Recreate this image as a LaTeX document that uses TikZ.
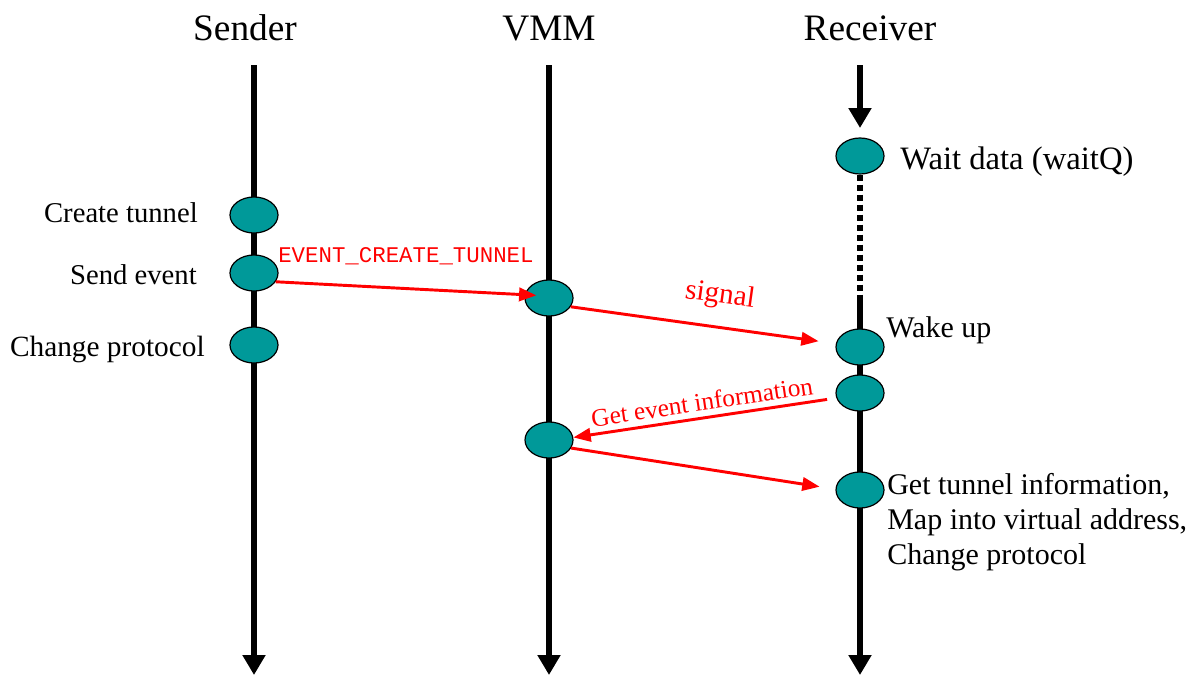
\documentclass[tikz,border=0pt]{standalone}
\usepackage{fontspec}
\setmainfont{Liberation Serif}
\newfontfamily\msgmono{Liberation Mono}
\usetikzlibrary{shapes.geometric,arrows.meta,backgrounds}
\definecolor{stateteal}{RGB}{0,153,153}
\definecolor{msgred}{RGB}{255,0,0}
\begin{document}
\begin{tikzpicture}[x=0.75pt,y=-0.75pt,
  lifeline/.style={line width=4.5pt,-{Triangle[width=16.5pt,length=15pt]}},
  waitline/.style={line width=4.5pt,dash pattern=on 4.5pt off 3pt},
  state/.style={ellipse,draw=black,line width=0.9pt,fill=stateteal,
    minimum width=36pt,minimum height=27pt,inner sep=0pt},
  msg/.style={draw=msgred,line width=2.2pt,-{Triangle[width=10pt,length=13pt]}},
  title/.style={font=\fontsize{28}{32}\selectfont,anchor=base,inner sep=0pt},
  leftlbl/.style={font=\fontsize{21.5}{26}\selectfont,anchor=base east,inner sep=0pt},
  rightlbl/.style={font=\fontsize{22.5}{26.25}\selectfont,anchor=base west,inner sep=0pt,align=left},
  msglbl/.style={text=msgred,inner sep=0pt}
]
\useasboundingbox (0,0) rectangle (1196,675);

% column headings
\node[title] (tS) at (245,40) {Sender};
\node[title] (tV) at (549,40) {VMM};
\node[title] (tR) at (870,40) {Receiver};

% states on the three timelines
\node[state] (s1) at (254,215) {};
\node[state] (s2) at (254,273) {};
\node[state] (s3) at (254,345) {};
\node[state] (v1) at (549,298) {};
\node[state] (v2) at (549,440) {};
\node[state] (r1) at (860,156) {};
\node[state] (r2) at (860,347) {};
\node[state] (r3) at (860,393) {};
\node[state] (r4) at (860,490) {};

% timelines, drawn behind the states
\coordinate (sTop) at (254,65);
\coordinate (sBot) at (254,675);
\coordinate (vTop) at (549,65);
\coordinate (vBot) at (549,675);
\coordinate (rTop) at (860,65);
\coordinate (rIn) at (860,128);
\coordinate (rWake) at (860,296);
\coordinate (rBot) at (860,675);
\begin{scope}[on background layer]
  \draw[lifeline] (sTop) -- (sBot);
  \draw[lifeline] (vTop) -- (vBot);
  \draw[lifeline] (rTop) -- (rIn);
  \draw[waitline] (r1.south) -- (rWake);
  \draw[lifeline] (rWake) -- (rBot);
\end{scope}

% state descriptions
\node[leftlbl] (lCreate) at (198,222) {Create tunnel};
\node[leftlbl] (lSend) at (197,284) {Send event};
\node[leftlbl,font=\fontsize{22}{26}\selectfont] (lChange) at (205,356) {Change protocol};
\node[rightlbl,font=\fontsize{24.5}{28}\selectfont] (lWait) at (900,169) {Wait data (waitQ)};
\node[rightlbl] (lWake) at (886,337) {Wake up};
\node[rightlbl,anchor=north west,font=\fontsize{22.5}{26.25}\selectfont] (lGet) at (887,473)
  {Get tunnel information,\\Map into virtual address,\\Change protocol};

% messages
\draw[msg] (s2.-22) -- ([xshift=9pt,yshift=2pt]v1.west);
\draw[msg,shorten >=13pt] (v1.-22) -- (r2.172);
\draw[msg,shorten <=7pt] (r3.192) -- (v2.6);
\draw[msg,shorten >=12pt] (v2.-20) -- (r4.178);

\node[msglbl,anchor=base west,font=\msgmono\fontsize{16.8}{20}\selectfont] (mEvt) at (278,262) {EVENT\_CREATE\_TUNNEL};
\node[msglbl,rotate=-8,font=\fontsize{22}{26}\selectfont] (mSig) at (720,296) {signal};
\node[msglbl,rotate=8.5,font=\fontsize{19}{23}\selectfont] (mGet) at (702,402) {Get event information};
\end{tikzpicture}
\end{document}
